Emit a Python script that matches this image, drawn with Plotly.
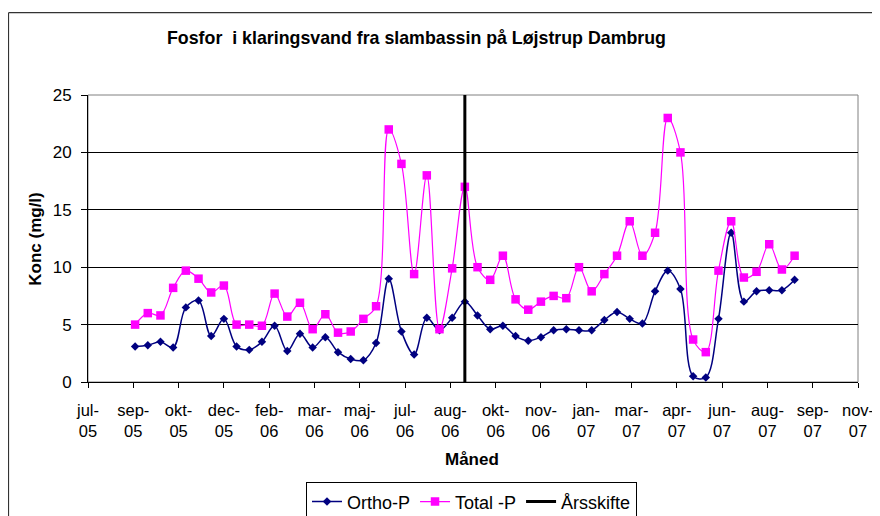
import plotly.graph_objects as go

# ---------------- data ----------------
sample_dates = [
    "2005-09-07", "2005-09-21", "2005-10-05", "2005-10-19", "2005-11-02", "2005-11-16",
    "2005-11-30", "2005-12-14", "2005-12-28", "2006-01-11", "2006-01-25", "2006-02-08",
    "2006-02-22", "2006-03-08", "2006-03-22", "2006-04-05", "2006-04-19", "2006-05-03",
    "2006-05-17", "2006-05-31", "2006-06-14", "2006-06-28", "2006-07-12", "2006-07-26",
    "2006-08-09", "2006-08-23", "2006-09-06", "2006-09-20", "2006-10-04", "2006-10-18",
    "2006-11-01", "2006-11-15", "2006-11-29", "2006-12-13", "2006-12-27", "2007-01-10",
    "2007-01-24", "2007-02-07", "2007-02-21", "2007-03-07", "2007-03-21", "2007-04-04",
    "2007-04-18", "2007-05-02", "2007-05-16", "2007-05-30", "2007-06-13", "2007-06-27",
    "2007-07-11", "2007-07-25", "2007-08-08", "2007-08-22", "2007-09-05",
]

ortho_p = [
    3.1, 3.2, 3.5, 3.0, 6.5, 7.1, 4.0, 5.5, 3.1, 2.8, 3.5, 4.9,
    2.7, 4.2, 3.0, 3.9, 2.6, 2.0, 1.9, 3.4, 9.0, 4.4, 2.4, 5.6,
    4.5, 5.6, 7.0, 5.8, 4.6, 4.9, 4.0, 3.6, 3.9, 4.5, 4.6, 4.5,
    4.5, 5.4, 6.1, 5.5, 5.1, 7.9, 9.7, 8.1, 0.5, 0.4, 5.5, 13.0,
    7.0, 7.9, 8.0, 8.0, 8.9,
]

total_p = [
    5.0, 6.0, 5.8, 8.2, 9.7, 9.0, 7.8, 8.4, 5.0, 5.0, 4.9, 7.7,
    5.7, 6.9, 4.6, 5.9, 4.3, 4.4, 5.5, 6.6, 22.0, 19.0, 9.4, 18.0,
    4.6, 9.9, 17.0, 10.0, 8.9, 11.0, 7.2, 6.3, 7.0, 7.5, 7.3, 10.0,
    7.9, 9.4, 11.0, 14.0, 11.0, 13.0, 23.0, 20.0, 3.7, 2.6, 9.7, 14.0,
    9.1, 9.6, 12.0, 9.8, 11.0,
]

aarsskifte_dates = ["2006-09-06", "2006-09-06"]
aarsskifte_values = [0, 25]

tick_dates = [
    "2005-07-17", "2005-09-05", "2005-10-25", "2005-12-14", "2006-02-02", "2006-03-24",
    "2006-05-13", "2006-07-02", "2006-08-21", "2006-10-10", "2006-11-29", "2007-01-18",
    "2007-03-09", "2007-04-28", "2007-06-17", "2007-08-06", "2007-09-25", "2007-11-14",
]
tick_labels = [
    "jul-<br>05", "sep-<br>05", "okt-<br>05", "dec-<br>05", "feb-<br>06", "mar-<br>06",
    "maj-<br>06", "jul-<br>06", "aug-<br>06", "okt-<br>06", "nov-<br>06", "jan-<br>07",
    "mar-<br>07", "apr-<br>07", "jun-<br>07", "aug-<br>07", "sep-<br>07", "nov-<br>07",
]

title_text = "Fosfor  i klaringsvand fra slambassin på Løjstrup Dambrug"
x_title = "Måned"
y_title = "Konc (mg/l)"

# ---------------- layout helpers ----------------
# The page body has an 8px margin, so the figure is drawn 8px smaller and
# page-pixel positions are converted to figure positions.
OFF = 8
W, H = 880 - OFF, 516 - OFF
# plot area in page pixels
PL, PR, PT, PB = 88, 858, 95, 382.5
L, R, T, B = PL - OFF, PR - OFF, PT - OFF, PB - OFF


def px_x(page_x):
    return (page_x - PL) / (PR - PL)


def px_y(page_y):
    return (PB - page_y) / (PB - PT)


FONT = "Liberation Sans, Arial, sans-serif"

fig = go.Figure()

fig.add_trace(go.Scatter(
    x=sample_dates, y=ortho_p, name="Ortho-P",
    mode="lines+markers",
    line=dict(color="#000080", width=1.5, shape="spline", smoothing=1.0),
    marker=dict(symbol="diamond", size=6.5, color="#000080"),
))
fig.add_trace(go.Scatter(
    x=sample_dates, y=total_p, name="Total -P",
    mode="lines+markers",
    line=dict(color="#FF00FF", width=1.2, shape="spline", smoothing=1.0),
    marker=dict(symbol="square", size=8.5, color="#FF00FF"),
))
fig.add_trace(go.Scatter(
    x=aarsskifte_dates, y=aarsskifte_values, name="Årsskifte",
    mode="lines",
    line=dict(color="black", width=3),
))

fig.update_layout(
    width=W, height=H,
    margin=dict(l=L, r=W - R, t=T, b=H - B, pad=0, autoexpand=False),
    paper_bgcolor="white", plot_bgcolor="white",
    font=dict(family=FONT, color="black", size=16),
    showlegend=True,
    legend=dict(
        orientation="h", x=px_x(471.5), xanchor="center",
        y=px_y(483), yanchor="top",
        bordercolor="black", borderwidth=1, bgcolor="white",
        font=dict(size=18, family=FONT),
        itemwidth=30, tracegroupgap=0,
    ),
    xaxis=dict(
        type="date",
        range=[tick_dates[0], tick_dates[-1]],
        tickmode="array", tickvals=tick_dates, ticktext=tick_labels,
        ticks="outside", ticklen=5, tickcolor="black", tickwidth=1,
        showline=True, linecolor="black", linewidth=1,
        showgrid=False, zeroline=False,
        tickfont=dict(size=16.5, family=FONT),
        ticklabelstandoff=8,
        tickangle=0,
    ),
    yaxis=dict(
        range=[0, 25], tickmode="linear", tick0=0, dtick=5,
        ticks="outside", ticklen=6, tickcolor="black", tickwidth=1,
        showline=True, linecolor="black", linewidth=1,
        showgrid=True, gridcolor="black", gridwidth=1,
        zeroline=False,
        tickfont=dict(size=17, family=FONT),
        ticklabelstandoff=6,
    ),
    shapes=[
        # plot-area frame (grey top/right)
        dict(type="rect", xref="paper", yref="paper", x0=0, x1=1, y0=0, y1=1,
             line=dict(color="#808080", width=1), layer="below"),
        # chart-area outer border (left and top visible)
        dict(type="line", xref="paper", yref="paper",
             x0=px_x(8.5), x1=px_x(8.5), y0=px_y(12.5), y1=px_y(520),
             line=dict(color="#333333", width=1.2)),
        dict(type="line", xref="paper", yref="paper",
             x0=px_x(8.5), x1=px_x(884), y0=px_y(12.5), y1=px_y(12.5),
             line=dict(color="#333333", width=1.2)),
    ],
    annotations=[
        dict(text="<b>" + title_text + "</b>", xref="paper", yref="paper",
             x=px_x(416.5), y=px_y(38), xanchor="center", yanchor="middle",
             showarrow=False, font=dict(size=17.8, family=FONT)),
        dict(text="<b>" + x_title + "</b>", xref="paper", yref="paper",
             x=px_x(472), y=px_y(460), xanchor="center", yanchor="middle",
             showarrow=False, font=dict(size=17, family=FONT)),
        dict(text="<b>" + y_title + "</b>", xref="paper", yref="paper",
             x=px_x(36), y=px_y(239), xanchor="center", yanchor="middle",
             textangle=-90, showarrow=False, font=dict(size=17, family=FONT)),
    ],
)

fig.write_html("out.html")
